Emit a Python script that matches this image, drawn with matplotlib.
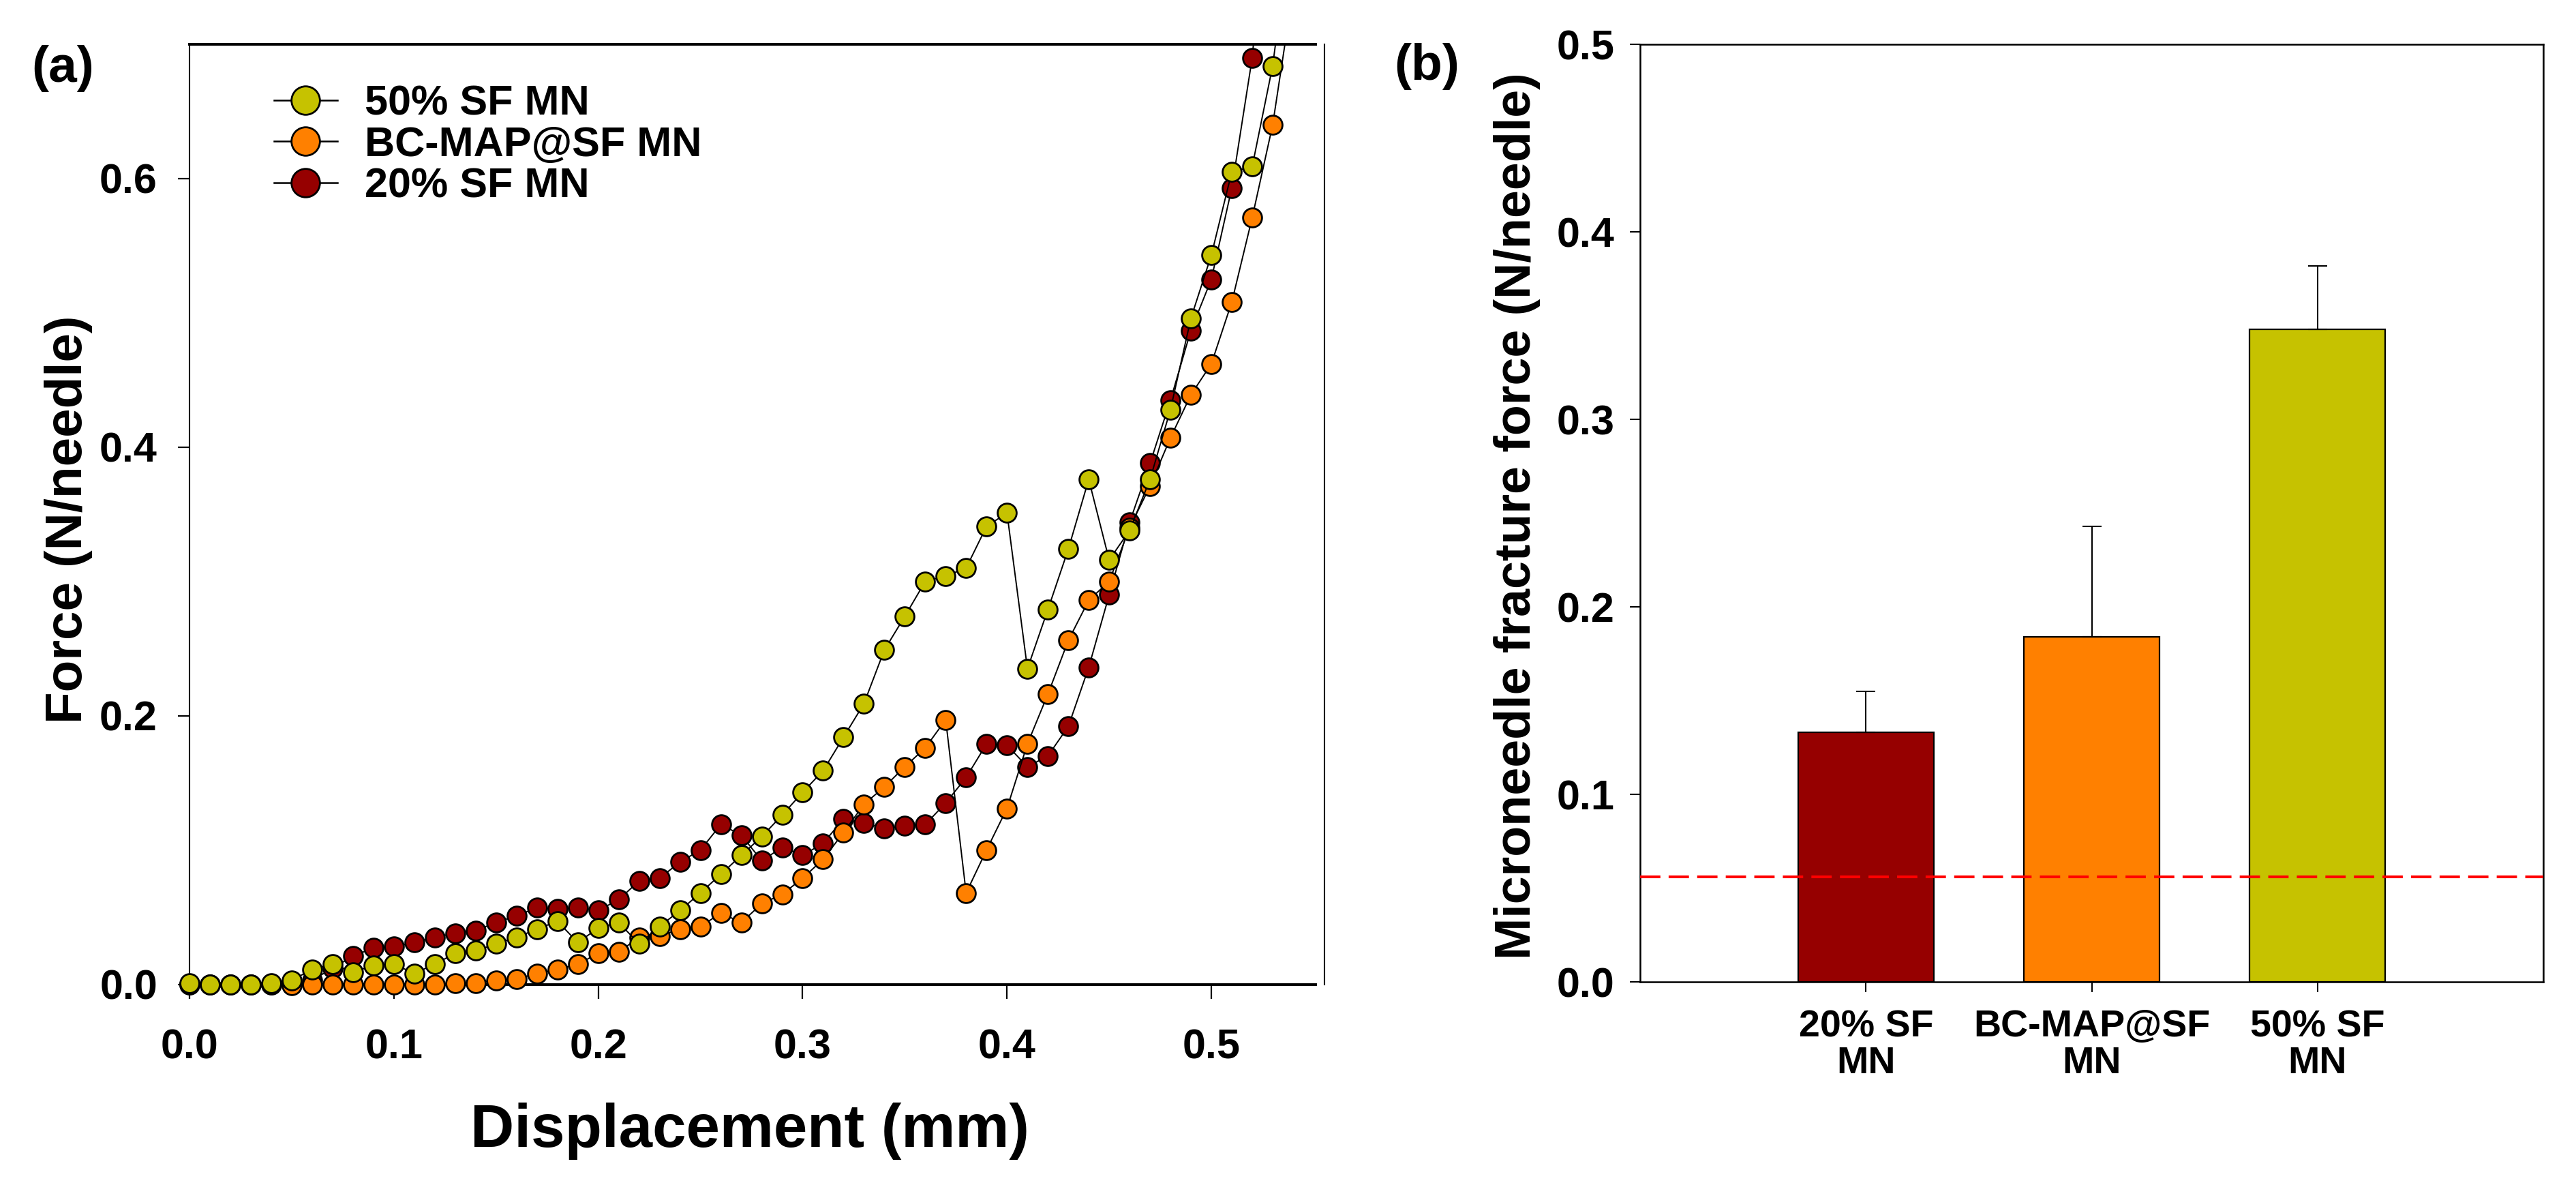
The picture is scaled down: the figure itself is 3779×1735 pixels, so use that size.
import matplotlib
matplotlib.use("Agg")
import matplotlib.pyplot as plt
from matplotlib.lines import Line2D
import numpy as np


# Panel (a): force-displacement curves, one point every 0.01 mm
displacement = [round(0.01 * i, 2) for i in range(55)]

force_50sf = [0.001, 0.000, 0.000, 0.000, 0.001, 0.003, 0.011, 0.015, 0.009, 0.014,
              0.015, 0.008, 0.015, 0.023, 0.025, 0.030, 0.035, 0.041, 0.047, 0.031,
              0.042, 0.046, 0.030, 0.043, 0.055, 0.068, 0.082, 0.096, 0.110, 0.126,
              0.143, 0.159, 0.184, 0.209, 0.249, 0.274, 0.300, 0.304, 0.310, 0.341,
              0.351, 0.235, 0.279, 0.324, 0.376, 0.316, 0.338, 0.376, 0.428, 0.496,
              0.543, 0.605, 0.609, 0.684, 0.800]

force_bcmap = [0.000, 0.000, 0.000, 0.000, 0.000, -0.001, 0.000, 0.000, 0.000, 0.000,
               0.000, 0.000, 0.000, 0.001, 0.001, 0.003, 0.004, 0.008, 0.011, 0.015,
               0.023, 0.024, 0.035, 0.036, 0.041, 0.043, 0.053, 0.046, 0.060, 0.067,
               0.079, 0.093, 0.113, 0.134, 0.147, 0.162, 0.176, 0.197, 0.068, 0.100,
               0.131, 0.179, 0.216, 0.256, 0.286, 0.300, 0.340, 0.371, 0.407, 0.439,
               0.462, 0.508, 0.571, 0.640, 0.740]

force_20sf = [0.000, 0.000, 0.000, 0.000, 0.000, 0.000, 0.003, 0.012, 0.021, 0.027,
              0.028, 0.031, 0.035, 0.038, 0.040, 0.046, 0.051, 0.057, 0.056, 0.057,
              0.055, 0.063, 0.077, 0.079, 0.091, 0.100, 0.119, 0.111, 0.092, 0.102,
              0.096, 0.105, 0.123, 0.120, 0.116, 0.118, 0.119, 0.135, 0.154, 0.179,
              0.178, 0.162, 0.170, 0.192, 0.236, 0.290, 0.344, 0.388, 0.435, 0.487,
              0.525, 0.593, 0.690, 0.860]

# Panel (b): fracture force per needle
groups = ["20% SF\nMN", "BC-MAP@SF\nMN", "50% SF\nMN"]
fracture_mean = [0.133, 0.184, 0.348]
fracture_err = [0.022, 0.059, 0.034]
threshold = 0.056

YELLOW = "#C6C200"
ORANGE = "#FF8000"
DARKRED = "#960000"

X_MAX_A = 0.551
Y_MAX_A = 0.70

plt.rcParams["font.family"] = ["Liberation Sans", "DejaVu Sans"]
plt.rcParams["font.weight"] = "bold"

fig = plt.figure(figsize=(37.79, 17.35), dpi=100)
ax_a = fig.add_axes([0.0736, 0.168, 0.4371, 0.7945])
ax_b = fig.add_axes([0.6367, 0.170, 0.3506, 0.7925])


# ---- panel (a) ----
series = [
    (force_20sf, DARKRED),
    (force_bcmap, ORANGE),
    (force_50sf, YELLOW),
]
z = 3
for values, colour in series:
    x = np.array(displacement[:len(values)])
    y = np.array(values)
    ax_a.plot(x, y, color="black", lw=1.4, zorder=z)
    # markers are not clipped at the x axis, but hidden above the frame
    y_in = np.where(y <= Y_MAX_A, y, np.nan)
    ax_a.plot(x, y_in, ls="none", marker="o", ms=20, mfc=colour, mec="black",
              mew=2.0, clip_on=False, zorder=z + 1)
    z += 2

ax_a.set_xlim(0, X_MAX_A)
ax_a.set_ylim(0, Y_MAX_A)
ax_a.set_xticks([0.0, 0.1, 0.2, 0.3, 0.4, 0.5])
ax_a.set_yticks([0.0, 0.2, 0.4, 0.6])
ax_a.set_xticklabels(["%.1f" % v for v in ax_a.get_xticks()], fontsize=44,
                     fontweight="bold")
ax_a.set_yticklabels(["%.1f" % v for v in ax_a.get_yticks()], fontsize=44,
                     fontweight="bold")
ax_a.tick_params(axis="x", direction="out", length=15, width=1.6, pad=32)
ax_a.tick_params(axis="y", direction="out", length=12, width=1.6, pad=22)
ax_a.spines["top"].set_linewidth(2.8)
ax_a.spines["bottom"].set_linewidth(2.8)
ax_a.spines["left"].set_linewidth(1.5)
ax_a.spines["right"].set_visible(False)
# the separate right-hand frame line
ax_a.plot([1.008, 1.008], [0, 1], color="black", lw=1.5, transform=ax_a.transAxes,
          clip_on=False)

handles = [Line2D([0], [0], color="black", lw=1.8, marker="o", ms=30, mfc=c,
                  mec="black", mew=2.0) for c in (YELLOW, ORANGE, DARKRED)]
ax_a.legend(handles, ["50% SF MN", "BC-MAP@SF MN", "20% SF MN"], loc="upper left",
            bbox_to_anchor=(0.075, 0.9572), frameon=False,
            prop={"weight": "bold", "size": 44}, handlelength=1.52,
            handletextpad=0.66, labelspacing=0.06, borderpad=0, borderaxespad=0)

fig.text(0.291, 0.044, "Displacement (mm)", fontsize=64, fontweight="bold",
         ha="center", va="center")
fig.text(0.0265, 0.561, "Force (N/needle)", fontsize=55, fontweight="bold",
         rotation=90, ha="center", va="center")
fig.text(0.0243, 0.942, "(a)", fontsize=54, fontweight="bold", ha="center", va="center")


# ---- panel (b) ----
pos = np.arange(1, len(groups) + 1)
ax_b.bar(pos, fracture_mean, width=0.6, color=[DARKRED, ORANGE, YELLOW],
         edgecolor="black", linewidth=1.6, zorder=2)
ax_b.errorbar(pos, fracture_mean, yerr=[[0, 0, 0], fracture_err], fmt="none",
              ecolor="black", elinewidth=1.5, capsize=10, capthick=1.5, zorder=3)
ax_b.axhline(threshold, color="#FF0000", lw=2.9, ls=(0, (7.4, 3.0)), zorder=4)

ax_b.set_xlim(0, 4)
ax_b.set_ylim(0, 0.5)
ax_b.set_xticks(pos)
ax_b.set_xticklabels(groups, fontsize=40, fontweight="bold", linespacing=1.05)
ax_b.set_yticks([0.0, 0.1, 0.2, 0.3, 0.4, 0.5])
ax_b.set_yticklabels(["%.1f" % v for v in ax_b.get_yticks()], fontsize=44,
                     fontweight="bold")
ax_b.tick_params(axis="x", direction="out", length=11, width=1.5, pad=18)
ax_b.tick_params(axis="y", direction="out", length=11, width=1.5, pad=16)
for side in ("top", "bottom", "left", "right"):
    ax_b.spines[side].set_linewidth(1.8)

fig.text(0.589, 0.564, "Microneedle fracture force (N/needle)", fontsize=53,
         fontweight="bold", rotation=90, ha="center", va="center")
fig.text(0.554, 0.944, "(b)", fontsize=54, fontweight="bold", ha="center", va="center")

fig.savefig("out.png", dpi=100)
